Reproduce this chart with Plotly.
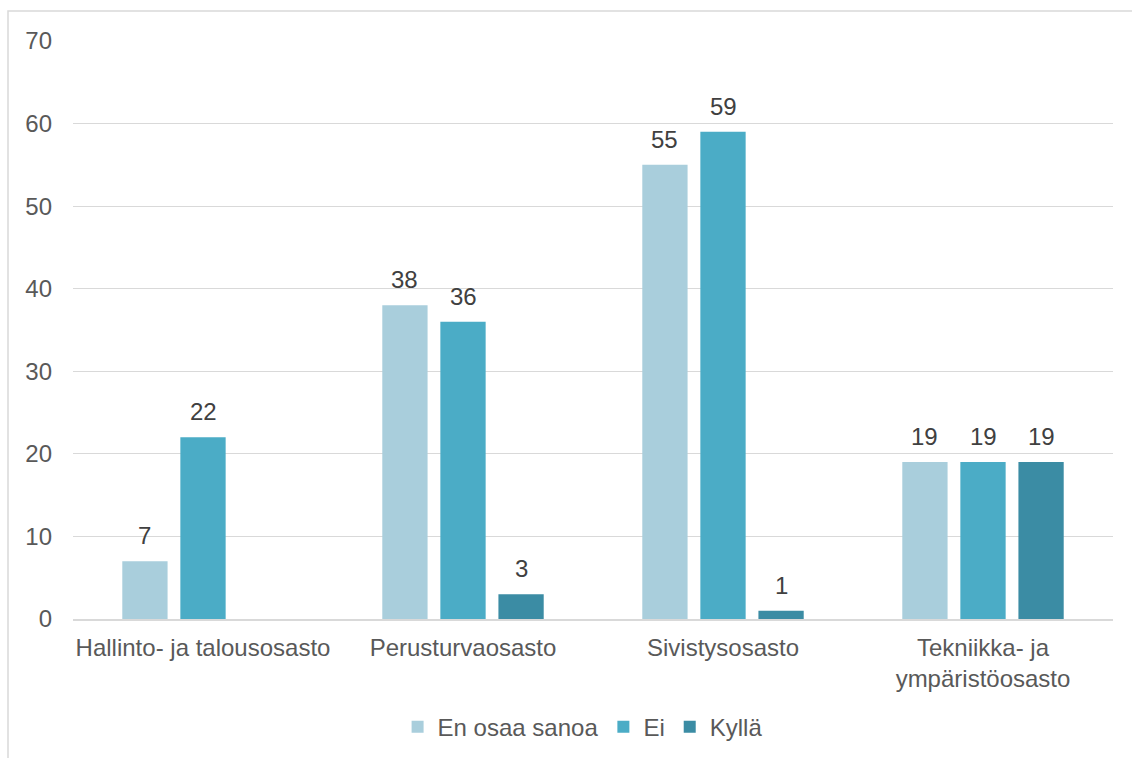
import plotly.graph_objects as go

categories = ["Hallinto- ja talousosasto", "Perusturvaosasto", "Sivistysosasto",
              "Tekniikka- ja<br>ympäristöosasto"]
en_osaa_sanoa = [7, 38, 55, 19]
ei = [22, 36, 59, 19]
kylla = [None, 3, 1, 19]

series = [
    ("En osaa sanoa", en_osaa_sanoa, "#A9CEDC"),
    ("Ei", ei, "#4BACC6"),
    ("Kyllä", kylla, "#3B8CA4"),
]

font_family = "Liberation Sans, Arial, sans-serif"
fs = 24
bargap = 0.33
bargroupgap = 0.22

fig = go.Figure()
for name, vals, color in series:
    fig.add_trace(go.Bar(
        name=name, x=categories, y=vals, marker_color=color,
        marker_line_width=0,
    ))

# value labels above each bar, centred on the bar's slot within its group
slot = (1 - bargap) / len(series)
annotations = []
for k, (name, vals, color) in enumerate(series):
    offset = (k - (len(series) - 1) / 2) * slot
    for i, v in enumerate(vals):
        if v is None:
            continue
        annotations.append(dict(
            x=i + offset, y=v, xref="x", yref="y", text=str(v),
            showarrow=False, yanchor="bottom", yshift=10,
            font=dict(family=font_family, size=fs, color="#404040"),
        ))

fig.update_layout(
    width=1132, height=758,
    margin=dict(l=73, r=19, t=41, b=139, autoexpand=False),
    paper_bgcolor="white", plot_bgcolor="white",
    barmode="group", bargap=bargap, bargroupgap=bargroupgap,
    font=dict(family=font_family, size=fs, color="#595959"),
    showlegend=True,
    legend=dict(orientation="h", x=0.49, xanchor="center", y=-0.187, yanchor="middle",
                font=dict(size=fs, color="#595959"), itemwidth=30,
                traceorder="normal"),
    xaxis=dict(showline=True, linecolor="#D9D9D9", linewidth=2, ticks="",
               showgrid=False, ticklabelstandoff=6, automargin=False,
               tickfont=dict(size=fs, color="#595959")),
    yaxis=dict(range=[0, 70], dtick=10, showgrid=True, gridcolor="#D9D9D9",
               gridwidth=1, zeroline=False, showline=False, ticks="",
               ticklabelstandoff=20, automargin=False,
               tickfont=dict(size=fs, color="#595959")),
    annotations=annotations,
    shapes=[dict(type="rect", xref="paper", yref="paper",
                 x0=-0.0625, x1=1.05, y0=-0.35, y1=1.052,
                 line=dict(color="#D9D9D9", width=1.5), layer="below")],
)

fig.write_html("out.html")
